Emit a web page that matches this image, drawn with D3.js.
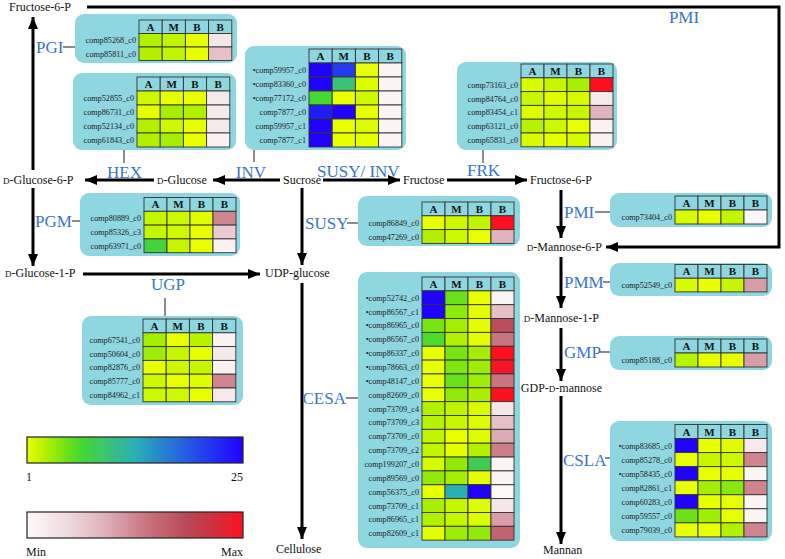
<!DOCTYPE html>
<html><head><meta charset="utf-8">
<script src="https://cdn.jsdelivr.net/npm/d3@7"></script>
<style>body{margin:0;background:#fff}svg{display:block}</style>
</head><body>
<svg id="c" width="785" height="559"></svg>
<script>
// ---------- data ----------
const columns = ["A", "M", "B", "B"];
// each row: [A, M, B] expression level on the 1..25 scale, then relative level (Min=0 .. Max=1)
const pgiGenes = ["comp85268_c0", "comp85811_c0"];
const pgiValues = [[3, 2.5, 1, 0.12], [3, 2.5, 1, 0.3]];
const hexGenes = ["comp52855_c0", "comp86731_c0", "comp52134_c0", "comp61843_c0"];
const hexValues = [[2, 1, 1, 0.1], [1, 3.5, 3, 0.1], [3, 2, 1, 0.1], [3, 3.5, 1, 0.05]];
const invGenes = ["•comp59957_c0", "•comp83360_c0", "•comp77172_c0", "comp7877_c0", "comp59957_c1", "comp7877_c1"];
const invValues = [[25, 21, 1, 0.02], [25, 10, 1.4, 0.02], [7, 1, 2, 0.02], [23, 25, 1, 0.02], [25, 1, 1.5, 0.02], [25, 1, 1, 0.02]];
const frkGenes = ["comp73163_c0", "comp84764_c0", "comp83454_c1", "comp63121_c0", "comp65831_c0"];
const frkValues = [[1.6, 2.2, 3.3, 1], [2.2, 1.3, 1.6, 0.1], [1.3, 2, 2.2, 0.35], [2.8, 2, 1, 0.05], [1.6, 1, 1.6, 0.05]];
const pgmGenes = ["comp80889_c0", "comp85326_c3", "comp63971_c0"];
const pgmValues = [[2.3, 2, 1.3, 0.5], [2.3, 2, 1, 0.25], [7.5, 2.3, 1, 0.05]];
const susyGenes = ["comp86849_c0", "comp47269_c0"];
const susyValues = [[1, 2, 2.4, 1], [3, 2, 1, 0.35]];
const ugpGenes = ["comp67541_c0", "comp50604_c0", "comp82876_c0", "comp85777_c0", "comp84962_c1"];
const ugpValues = [[3.5, 1, 2.8, 0.05], [3.8, 2.3, 1, 0.1], [1, 2, 2.3, 0.05], [2, 1, 1.3, 0.5], [2, 2, 1, 0.1]];
const cesaGenes = ["•comp52742_c0", "•comp86567_c1", "•comp86965_c0", "•comp86567_c0", "•comp86337_c0", "•comp78663_c0",
  "•comp48147_c0", "comp82609_c0", "comp73709_c4", "comp73709_c3", "comp73709_c0", "comp73709_c2", "comp199207_c0",
  "comp89569_c0", "comp56375_c0", "comp73709_c1", "comp86965_c1", "comp82609_c1"];
const cesaValues = [[25, 5.5, 1, 0.03], [25, 4.3, 1.2, 0.3], [5, 3.5, 1.2, 0.72], [6.5, 3, 1.2, 0.55], [1, 5, 3.5, 1],
  [1, 4.8, 3.8, 0.98], [1, 5.6, 3.8, 0.55], [1, 4.2, 3.3, 1], [3, 2.5, 1.5, 0.12], [2.8, 2.2, 1.4, 0.3], [2.5, 1, 1.4, 0.38],
  [2.4, 1.1, 3, 0.52], [1.6, 4.2, 8.5, 0.03], [4.2, 3.5, 1.2, 0.03], [1, 13, 25, 0], [3.3, 2.3, 1.4, 0.12], [3, 2.3, 1.4, 0.42],
  [1.2, 3.8, 4.2, 0.62]];
const pmiGenes = ["comp73404_c0"];
const pmiValues = [[1.6, 1, 2.3, 0.02]];
const pmmGenes = ["comp52549_c0"];
const pmmValues = [[1.6, 1, 2.3, 0.42]];
const gmpGenes = ["comp85188_c0"];
const gmpValues = [[2.8, 1, 1, 0.42]];
const cslaGenes = ["•comp83685_c0", "comp85278_c0", "•comp58435_c0", "comp82861_c1", "comp60283_c0", "comp59557_c0", "comp79039_c0"];
const cslaValues = [[25, 1, 1.3, 0.1], [1, 2.3, 2, 0.5], [25, 1, 1, 0.02], [1, 3.5, 4.5, 0.5], [25, 1, 1, 0.02], [5.5, 3.8, 1, 0.02], [1, 1, 3, 0.5]];
const levelTicks = ["1", "25"];
const relTicks = ["Min", "Max"];

// ---------- scales ----------
const levelColor = d3.scaleLinear()
  .domain([1, 2, 3, 4, 5, 7, 10, 13, 19, 25])
  .range(["#e8ff00", "#cdf800", "#b2f000", "#98ec08", "#78e414", "#44d830", "#3cc078", "#2ab0b4", "#2458e4", "#2000ff"]);
const relColor = d3.scaleLinear()
  .domain([0, 0.15, 0.35, 0.55, 0.75, 0.9, 1])
  .range(["#fdf8f8", "#f3e2e5", "#e0b4bc", "#c97580", "#b84656", "#d82838", "#ff1020"]);

const svg = d3.select("#c");
const SERIF = "'Liberation Serif','Times New Roman',serif";
const PANEL = "#8ed6e0";
const BLUE = "#3a72d2";
const defs = svg.append("defs");
defs.append("marker").attr("id", "arr").attr("viewBox", "0 0 12 10").attr("refX", 12).attr("refY", 5)
  .attr("markerWidth", 12).attr("markerHeight", 10).attr("markerUnits", "userSpaceOnUse").attr("orient", "auto")
  .append("path").attr("d", "M0,0 L12,5 L0,10 Z").attr("fill", "#000");

// ---------- arrows ----------
const arrows = [
  [[33, 170], [33, 17]], [[154, 180], [85, 180]], [[280, 180], [213, 180]], [[323, 180], [400, 180]],
  [[447, 180], [527, 180]], [[87, 7], [779, 7], [779, 247], [606, 247]], [[561, 190], [561, 238]],
  [[561, 257], [561, 308]], [[561, 328], [561, 381]], [[561, 396], [561, 544]], [[33, 188], [33, 266]],
  [[83, 274], [260, 274]], [[302, 188], [302, 265]], [[302, 283], [302, 539]]
];
svg.append("g").selectAll("path").data(arrows).join("path")
  .attr("d", d => d3.line()(d)).attr("fill", "none").attr("stroke", "#000").attr("stroke-width", 3)
  .attr("marker-end", "url(#arr)");

// ---------- connectors ----------
const connectors = [[[63, 47], [75, 47]], [[124, 150], [124, 163]], [[254, 150], [254, 162]], [[483, 150], [483, 163]],
  [[72, 221], [80, 221]], [[347, 223], [358, 223]], [[165, 298], [165, 316]], [[346, 398], [358, 398]],
  [[595, 212], [610, 212]], [[603, 282], [610, 282]], [[599, 352], [610, 352]], [[605, 458], [610, 458]]];
svg.append("g").selectAll("path").data(connectors).join("path")
  .attr("d", d => d3.line()(d)).attr("stroke", "#666").attr("stroke-width", 1.5);

// ---------- node labels ----------
const nodes = [
  { pre: "", t: "Fructose-6-P", x: 9, y: 7, a: "start" },
  { pre: "D", t: "-Glucose-6-P", x: 3, y: 180, a: "start" },
  { pre: "D", t: "-Glucose", x: 157, y: 180, a: "start" },
  { pre: "", t: "Sucrose", x: 283, y: 180, a: "start" },
  { pre: "", t: "Fructose", x: 403, y: 180, a: "start" },
  { pre: "", t: "Fructose-6-P", x: 530, y: 180, a: "start" },
  { pre: "D", t: "-Mannose-6-P", x: 602, y: 247, a: "end" },
  { pre: "D", t: "-Mannose-1-P", x: 599, y: 318, a: "end" },
  { pre: "GDP-D", t: "-mannose", x: 602, y: 388, a: "end" },
  { pre: "", t: "Mannan", x: 543, y: 550, a: "start" },
  { pre: "D", t: "-Glucose-1-P", x: 5, y: 273, a: "start" },
  { pre: "", t: "UDP-glucose", x: 265, y: 273, a: "start" },
  { pre: "", t: "Cellulose", x: 276, y: 549, a: "start" }
];
nodes.forEach(n => {
  const t = svg.append("text").attr("x", n.x).attr("y", n.y + 4).attr("text-anchor", n.a)
    .attr("font-family", SERIF).attr("font-size", 12).attr("fill", "#111");
  if (n.pre === "GDP-D") {
    t.append("tspan").text("GDP-");
    t.append("tspan").attr("font-size", 9).text("D");
  } else if (n.pre) {
    t.append("tspan").attr("font-size", 9).text(n.pre);
  }
  t.append("tspan").text(n.t);
});

// ---------- enzyme labels ----------
const enzymes = [
  ["PGI", 36, 47, "start"], ["HEX", 107, 172, "start"], ["INV", 266, 172, "end"], ["SUSY/ INV", 317, 171, "start"],
  ["FRK", 467, 170, "start"], ["PGM", 35, 221, "start"], ["SUSY", 305, 223, "start"], ["UGP", 151, 284, "start"],
  ["CESA", 346, 398, "end"], ["PMI", 684, 17, "middle"], ["PMI", 564, 212, "start"], ["PMM", 564, 282, "start"],
  ["GMP", 564, 352, "start"], ["CSLA", 563, 460, "start"]
];
svg.append("g").selectAll("text").data(enzymes).join("text")
  .attr("x", d => d[1]).attr("y", d => d[2] + 6).attr("text-anchor", d => d[3])
  .attr("font-family", SERIF).attr("font-size", 17).attr("fill", BLUE).text(d => d[0]);

// ---------- tables ----------
function drawTable(genes, values, px, py, pw, ph, cx, hy, cw, rh) {
  const g = svg.append("g");
  g.append("rect").attr("x", px).attr("y", py).attr("width", pw).attr("height", ph).attr("rx", 9).attr("fill", PANEL);
  const x = d3.scaleBand().domain(d3.range(columns.length)).range([cx, cx + columns.length * cw]);
  const y = d3.scaleBand().domain(d3.range(genes.length)).range([hy + rh, hy + rh + genes.length * rh]);
  g.selectAll(".h").data(columns).join("rect").attr("x", (d, i) => x(i)).attr("y", hy)
    .attr("width", x.bandwidth()).attr("height", rh).attr("fill", PANEL).attr("stroke", "#333").attr("stroke-width", 0.9);
  g.selectAll(".ht").data(columns).join("text").attr("x", (d, i) => x(i) + x.bandwidth() / 2).attr("y", hy + rh / 2 + 4)
    .attr("text-anchor", "middle").attr("font-family", SERIF).attr("font-weight", "bold").attr("font-size", 11)
    .attr("fill", "#111").text(d => d);
  values.forEach((row, r) => {
    row.forEach((v, c) => {
      g.append("rect").attr("x", x(c)).attr("y", y(r)).attr("width", x.bandwidth()).attr("height", y.bandwidth())
        .attr("fill", c < 3 ? levelColor(v) : relColor(v)).attr("stroke", "#333").attr("stroke-width", 0.9);
    });
  });
  g.selectAll(".lab").data(genes).join("text").attr("x", cx - 3).attr("y", (d, i) => y(i) + y.bandwidth() / 2 + 3)
    .attr("text-anchor", "end").attr("font-family", SERIF).attr("font-size", 8.2).attr("fill", "#222").text(d => d);
}
drawTable(pgiGenes, pgiValues, 75, 14, 162, 49, 139, 20, 23.2, 13.5);
drawTable(hexGenes, hexValues, 73, 73, 163, 77, 137, 77, 23.2, 14);
drawTable(invGenes, invValues, 245, 46, 161, 104, 309, 49, 23.2, 14);
drawTable(frkGenes, frkValues, 457, 62, 160, 88, 521, 64, 23, 13.8);
drawTable(pgmGenes, pgmValues, 80, 193, 160, 63, 144, 197.5, 23, 13.8);
drawTable(susyGenes, susyValues, 358, 196, 162, 50, 422, 202, 23, 13.8);
drawTable(cesaGenes, cesaValues, 358, 272, 162, 276, 422, 277, 23, 13.85);
drawTable(ugpGenes, ugpValues, 82, 316, 161, 89, 143, 319, 23.2, 13.8);
drawTable(pmiGenes, pmiValues, 610, 193, 162, 34, 675, 196, 23, 14);
drawTable(pmmGenes, pmmValues, 610, 263, 162, 33, 675, 264.5, 23, 13.7);
drawTable(gmpGenes, gmpValues, 610, 336, 162, 34, 675, 339, 23, 14);
drawTable(cslaGenes, cslaValues, 610, 421, 162, 120, 675, 424.5, 23, 14.05);

// ---------- legends ----------
function gradient(id, scale, d0, d1) {
  const lg = defs.append("linearGradient").attr("id", id);
  d3.range(0, 1.0001, 0.05).forEach(t => {
    lg.append("stop").attr("offset", t).attr("stop-color", scale(d0 + t * (d1 - d0)));
  });
}
gradient("gLevel", levelColor, 1, 25);
gradient("gRel", relColor, 0, 1);
const legends = [{ id: "gLevel", y: 437, ticks: levelTicks }, { id: "gRel", y: 512, ticks: relTicks }];
legends.forEach(l => {
  svg.append("rect").attr("x", 27).attr("y", l.y).attr("width", 216).attr("height", 26)
    .attr("fill", `url(#${l.id})`).attr("stroke", "#222").attr("stroke-width", 1.2);
  svg.append("text").attr("x", 26).attr("y", l.y + 44).attr("font-family", SERIF).attr("font-size", 12)
    .attr("fill", "#111").text(l.ticks[0]);
  svg.append("text").attr("x", 243).attr("y", l.y + 44).attr("text-anchor", "end").attr("font-family", SERIF)
    .attr("font-size", 12).attr("fill", "#111").text(l.ticks[1]);
});
</script>
</body></html>
